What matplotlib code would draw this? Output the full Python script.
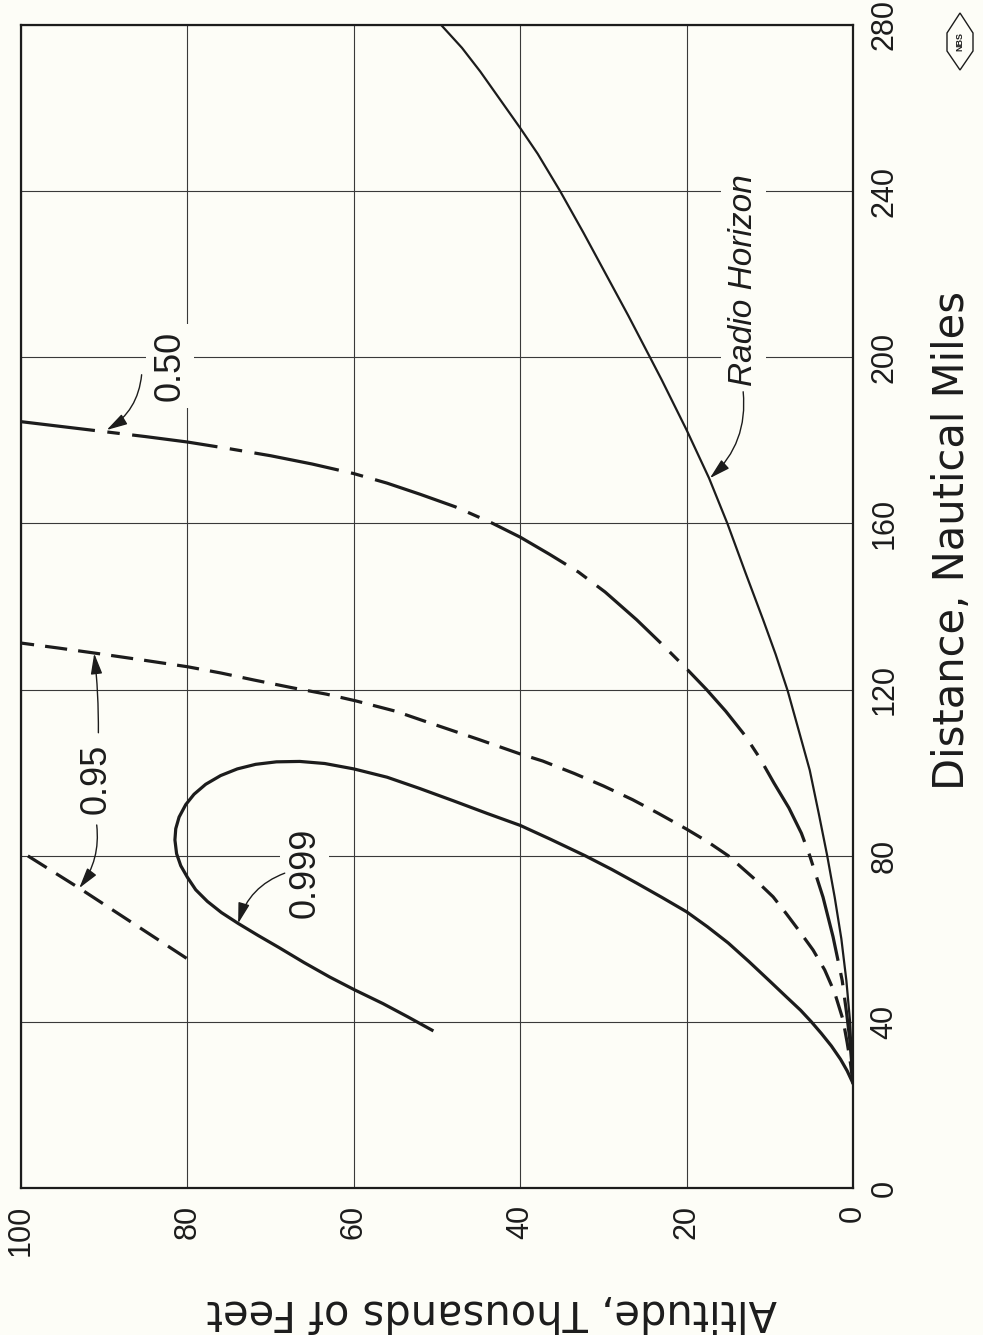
import matplotlib
matplotlib.use('Agg')
import matplotlib.pyplot as plt
from matplotlib import font_manager
from matplotlib.patches import Polygon

# ---------------- data (altitude in thousands of feet, distance in nautical miles) -------------
alt_ticks = [0, 20, 40, 60, 80, 100]
alt_tick_labels = ['0', '20', '40', '60', '80', '100']
dist_ticks = [0, 40, 80, 120, 160, 200, 240, 280]
dist_tick_labels = ['0', '40', '80', '120', '160', '200', '240', '280']

radio_alt = [0, 0.1, 0.35, 0.8, 1.4, 2.2, 3.1, 4.1, 5.2, 6.5, 7.85, 9.3, 10.8, 12.9, 15.1, 17.3, 20.0,
             23.0, 24.4, 27.0, 29.7, 32.4, 35.2, 37.9, 40.0, 42.4, 44.8, 47.0, 49.5]
radio_dist = [25.2, 30, 40, 50, 60, 70, 80, 90, 100.6, 110, 119.7, 128.5, 136.8, 148, 160, 170.9, 182.5,
              194.6, 200, 210, 220, 230, 240, 249, 255.2, 262, 268.8, 274.5, 280]

p50_alt = [0, 0.15, 0.4, 0.76, 1.3, 2.4, 3.6, 5.2, 6.2, 7.7, 9.5, 11.2, 13.0, 15.3, 17.6, 20.0, 23.0, 26.0,
           29.8, 33.0, 36.5, 40.0, 43.6, 47.8, 52.0, 56.0, 60.0, 65.0, 70.0, 75.0, 80.0, 85.0, 90.0, 95.0, 100.0]
p50_dist = [25.2, 30, 36, 42, 50, 60.5, 70, 80, 85.4, 91.5, 97.5, 103.5, 109, 114.8, 120, 125, 131, 136.8,
            143.5, 148.3, 152.6, 156.7, 160.3, 164, 167, 169.7, 172.0, 174.3, 176.3, 178, 179.6, 180.9, 182.1,
            183.3, 184.5]

p95_upper_alt = [0, 0.3, 0.7, 1.2, 2.2, 3.4, 4.8, 6.5, 8.0, 9.6, 12.0, 15.0, 17.5, 20.0, 23.4, 26.5, 30.0,
                 33.5, 37.3, 40.0, 45.0, 51.5, 55.0, 59.8, 63.3, 67.3, 72.0, 76.0, 80.0, 85.0, 91.2, 95.5, 100.0]
p95_upper_dist = [25.2, 30, 35, 40.5, 47, 52.5, 57.3, 62, 66, 70.1, 74.7, 80, 83.4, 86.4, 90.2, 93.5, 96.8,
                  99.8, 102.8, 104.5, 108, 112.4, 114.8, 117.3, 118.9, 120.4, 122.3, 124, 125.5, 127, 128.8,
                  130, 131.2]
p95_lower_alt = [80.1, 93.0, 100.0]
p95_lower_dist = [55.3, 72.2, 81.0]

p999_alt = [50.6, 53.5, 56.5, 59.9, 62.9, 66.0, 69.0, 71.5, 73.9, 75.9, 77.6, 79.0, 80.0, 80.8, 81.3, 81.5,
            81.4, 81.0, 80.2, 79.2, 77.8, 76.0, 74.0, 71.8, 69.3, 66.5, 63.5, 60.0, 56.0, 52.1, 48.0, 44.0,
            40.0, 36.4, 32.2, 29.0, 26.0, 23.0, 20.0, 17.5, 15.0, 12.5, 10.0, 8.0, 6.3, 5.0, 3.8, 2.6, 1.5,
            0.7, 0]
p999_dist = [38.0, 41.2, 44.4, 47.7, 50.8, 54.3, 57.9, 60.8, 63.7, 66.3, 69.0, 71.8, 74.8, 77.6, 80.5, 83.8,
             86.5, 89.3, 92.3, 94.8, 97.2, 99.3, 100.9, 102.0, 102.6, 102.7, 102.2, 100.9, 98.9, 96.2, 93.2,
             90.2, 87.3, 84.0, 80, 76.7, 73.4, 70.0, 66.5, 62.9, 59.0, 54.5, 49.8, 46.0, 42.8, 40, 37.2, 34.2,
             31.0, 28.2, 25.2]

labels = ['0.50', '0.95', '0.999', 'Radio Horizon']

# ---------------- styling -------------
BG = '#fdfdf7'
INK = '#1c1c1c'
GRID = '#3a3a3a'


def has_font(name):
    try:
        font_manager.findfont(font_manager.FontProperties(family=name), fallback_to_default=False)
        return True
    except Exception:
        return False


NARROW = 'Liberation Sans Narrow' if has_font('Liberation Sans Narrow') else 'Liberation Sans'
plt.rcParams['lines.scale_dashes'] = False
plt.rcParams['font.family'] = ['Liberation Sans', 'DejaVu Sans']

W, H = 983, 1335
fig = plt.figure(figsize=(W / 100, H / 100), dpi=100, facecolor=BG)
x0, x1, yt, yb = 21, 853, 25, 1188
ax = fig.add_axes([x0 / W, 1 - yb / H, (x1 - x0) / W, (yb - yt) / H])
ax.set_facecolor(BG)
ax.set_xlim(100, 0)
ax.set_ylim(0, 280)

for s in ax.spines.values():
    s.set_linewidth(1.6)
    s.set_color(INK)

ax.set_xticks(alt_ticks)
ax.set_xticklabels(alt_tick_labels, rotation=90, fontfamily=NARROW, fontsize=22, color=INK)
ax.set_yticks(dist_ticks)
ax.yaxis.tick_right()
ax.set_yticklabels(dist_tick_labels, rotation=90, fontfamily=NARROW, fontsize=22, color=INK)
for lb in ax.get_yticklabels():
    lb.set_va('center')
ax.tick_params(axis='x', length=0, pad=12)
ax.tick_params(axis='y', length=0, pad=12)
ax.grid(True, color=GRID, linewidth=0.8, zorder=1)
ax.set_axisbelow(True)

ax.plot(radio_alt, radio_dist, color=INK, lw=1.6, zorder=3, solid_joinstyle='round')
ax.plot(p50_alt, p50_dist, color=INK, lw=2.3, zorder=3, linestyle=(0, (62, 9, 9, 9)), dash_capstyle='butt',
        dash_joinstyle='round')
ax.plot(p95_upper_alt, p95_upper_dist, color=INK, lw=2.3, zorder=3, linestyle=(0, (16, 8)),
        dash_capstyle='butt', dash_joinstyle='round')
ax.plot(p95_lower_alt, p95_lower_dist, color=INK, lw=2.3, zorder=3, linestyle=(0, (16, 8)),
        dash_capstyle='butt')
ax.plot(p999_alt, p999_dist, color=INK, lw=2.3, zorder=3, solid_joinstyle='round')

box = dict(facecolor=BG, edgecolor='none', pad=5)
tkw = dict(rotation=90, ha='center', va='center', color=INK, zorder=4, bbox=box, fontsize=26)
ax.text(82.1, 197.8, labels[0], **tkw)
ax.text(91.0, 98.6, labels[1], **tkw)
ax.text(65.9, 75.8, labels[2], **tkw)
ax.text(13.2, 218.6, labels[3], rotation=90, ha='center', va='center', color=INK, zorder=4, bbox=box,
        fontsize=24, fontstyle='italic')

akw = dict(arrowstyle='-|>,head_length=0.9,head_width=0.25', color=INK, lw=1.0, mutation_scale=14,
           shrinkA=0, shrinkB=0)


def leader(tip, start, rad):
    ax.annotate('', xy=tip, xytext=start, zorder=5,
                arrowprops=dict(connectionstyle=f'arc3,rad={rad}', **akw))


leader((89.7, 182.5), (85.5, 195.8), -0.25)
leader((91.2, 128.7), (90.7, 109.6), 0.03)
leader((93.0, 72.2), (90.9, 87.4), -0.2)
leader((73.9, 63.7), (68.3, 75.8), 0.25)
leader((17.2, 170.9), (13.2, 191.7), -0.25)

fig.text(952 / W, 1 - 540 / H, 'Distance, Nautical Miles', rotation=90, ha='center', va='center',
         fontsize=30, color=INK, fontfamily='DejaVu Sans')
fig.text(492 / W, 1 - 1312 / H, 'Altitude, Thousands of Feet', rotation=180, ha='center', va='center',
         fontsize=30, color=INK, fontfamily='DejaVu Sans')

# NBS mark
pts = [(960, 13), (947, 33), (947, 51), (960, 70), (973, 51), (973, 33)]
fig.add_artist(Polygon([(px / W, 1 - py / H) for px, py in pts], closed=True, transform=fig.transFigure,
                       facecolor='none', edgecolor=INK, lw=1.0))
fig.text(960 / W, 1 - 41.5 / H, 'NBS', rotation=90, ha='center', va='center', fontsize=6.5,
         fontweight='bold', color=INK)

fig.savefig('out.png', dpi=100, facecolor=BG)
